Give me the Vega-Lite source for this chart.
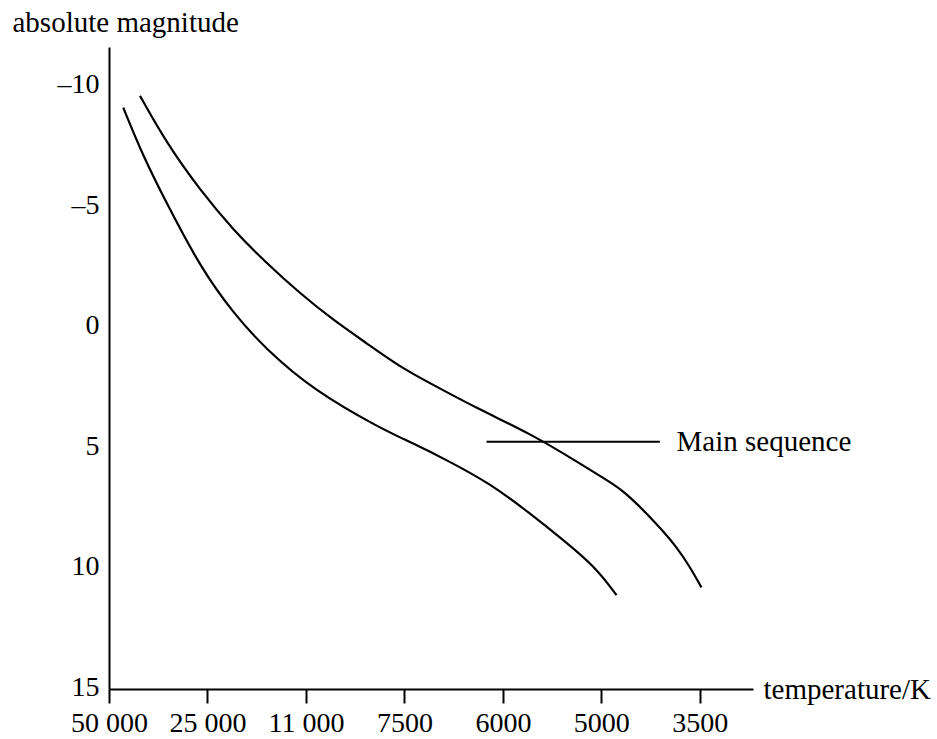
{
  "$schema": "https://vega.github.io/schema/vega-lite/v6.json",
  "width": 644,
  "height": 642,
  "autosize": {"type": "none"},
  "padding": {"left": 109, "top": 47, "right": 184, "bottom": 50},
  "background": "white",
  "config": {
    "view": {"stroke": null},
    "font": "Times New Roman, Liberation Serif, Tinos, DejaVu Serif, Noto Serif, serif",
    "text": {"font": "Times New Roman, Liberation Serif, Tinos, DejaVu Serif, Noto Serif, serif"},
    "axis": {"labelFont": "Times New Roman, Liberation Serif, Tinos, DejaVu Serif, Noto Serif, serif", "titleFont": "Times New Roman, Liberation Serif, Tinos, DejaVu Serif, Noto Serif, serif", "labelColor": "black", "titleColor": "black", "domainColor": "black", "tickColor": "black", "grid": false, "titleFontWeight": "normal", "labelOverlap": false, "labelBound": false, "labelFlush": false}
  },
  "datasets": {
    "curves": [
      {"series": "A", "t": 0.145, "mag": -9.14},
      {"series": "A", "t": 0.348, "mag": -7.11},
      {"series": "A", "t": 0.586, "mag": -5.17},
      {"series": "A", "t": 0.924, "mag": -2.54},
      {"series": "A", "t": 1.262, "mag": -0.6},
      {"series": "A", "t": 1.601, "mag": 0.92},
      {"series": "A", "t": 2.074, "mag": 2.58},
      {"series": "A", "t": 2.751, "mag": 4.17},
      {"series": "A", "t": 3.089, "mag": 4.8},
      {"series": "A", "t": 3.428, "mag": 5.49},
      {"series": "A", "t": 3.868, "mag": 6.46},
      {"series": "A", "t": 4.274, "mag": 7.7},
      {"series": "A", "t": 4.612, "mag": 8.81},
      {"series": "A", "t": 4.934, "mag": 9.91},
      {"series": "A", "t": 5.154, "mag": 11.1},
      {"series": "B", "t": 0.315, "mag": -9.63},
      {"series": "B", "t": 0.586, "mag": -7.66},
      {"series": "B", "t": 0.924, "mag": -5.72},
      {"series": "B", "t": 1.262, "mag": -4.06},
      {"series": "B", "t": 1.601, "mag": -2.68},
      {"series": "B", "t": 1.939, "mag": -1.43},
      {"series": "B", "t": 2.277, "mag": -0.32},
      {"series": "B", "t": 2.616, "mag": 0.64},
      {"series": "B", "t": 2.954, "mag": 1.62},
      {"series": "B", "t": 3.259, "mag": 2.3},
      {"series": "B", "t": 3.766, "mag": 3.41},
      {"series": "B", "t": 4.274, "mag": 4.38},
      {"series": "B", "t": 4.782, "mag": 5.63},
      {"series": "B", "t": 5.051, "mag": 6.32},
      {"series": "B", "t": 5.221, "mag": 6.74},
      {"series": "B", "t": 5.56, "mag": 8.12},
      {"series": "B", "t": 5.763, "mag": 9.09},
      {"series": "B", "t": 5.898, "mag": 9.92},
      {"series": "B", "t": 6.016, "mag": 10.78}
    ],
    "pointer": [
      {"t": 3.834, "mag": 4.73},
      {"t": 5.594, "mag": 4.73}
    ],
    "label": [
      {"t": 5.764, "mag": 4.73, "text": "Main sequence"}
    ]
  },
  "layer": [
    {
      "data": {"name": "curves"},
      "mark": {"type": "line", "interpolate": "basis", "color": "black", "strokeWidth": 2.2},
      "encoding": {
        "x": {
          "field": "t", "type": "quantitative",
          "scale": {"domain": [0, 6.54], "nice": false, "zero": false},
          "axis": {
            "values": [0, 1, 2, 3, 4, 5, 6],
            "labelExpr": "['50 000','25 000','11 000','7500','6000','5000','3500'][datum.value]",
            "labelFontSize": 28,
            "labelPadding": 6,
            "labelOverlap": false,
            "labelFlush": false,
            "tickSize": 14,
            "tickWidth": 2,
            "domainWidth": 2,
            "title": "temperature/K",
            "titleFontSize": 29,
            "titleAngle": 0,
            "titleAlign": "left",
            "titleBaseline": "middle",
            "titleX": 654,
            "titleY": 0
          }
        },
        "y": {
          "field": "mag", "type": "quantitative",
          "scale": {"domain": [15, -11.66], "nice": false, "zero": false},
          "axis": {
            "values": [-10, -5, 0, 5, 10, 15],
            "labelExpr": "datum.value < 0 ? '\u2013' + abs(datum.value) : '' + datum.value",
            "labelFontSize": 28,
            "labelOverlap": false,
            "labelFlush": false,
            "ticks": false,
            "labelPadding": 10,
            "labelOffset": -2,
            "domainWidth": 2,
            "title": "absolute magnitude",
            "titleFontSize": 29,
            "titleAngle": 0,
            "titleAlign": "left",
            "titleBaseline": "middle",
            "titleX": -97,
            "titleY": -25
          }
        },
        "detail": {"field": "series"}
      }
    },
    {
      "data": {"name": "pointer"},
      "mark": {"type": "line", "color": "black", "strokeWidth": 2},
      "encoding": {
        "x": {"field": "t", "type": "quantitative"},
        "y": {"field": "mag", "type": "quantitative"}
      }
    },
    {
      "data": {"name": "label"},
      "mark": {"type": "text", "align": "left", "baseline": "middle", "fontSize": 29, "font": "Times New Roman, Liberation Serif, Tinos, DejaVu Serif, Noto Serif, serif", "color": "black"},
      "encoding": {
        "x": {"field": "t", "type": "quantitative"},
        "y": {"field": "mag", "type": "quantitative"},
        "text": {"field": "text"}
      }
    }
  ]
}
